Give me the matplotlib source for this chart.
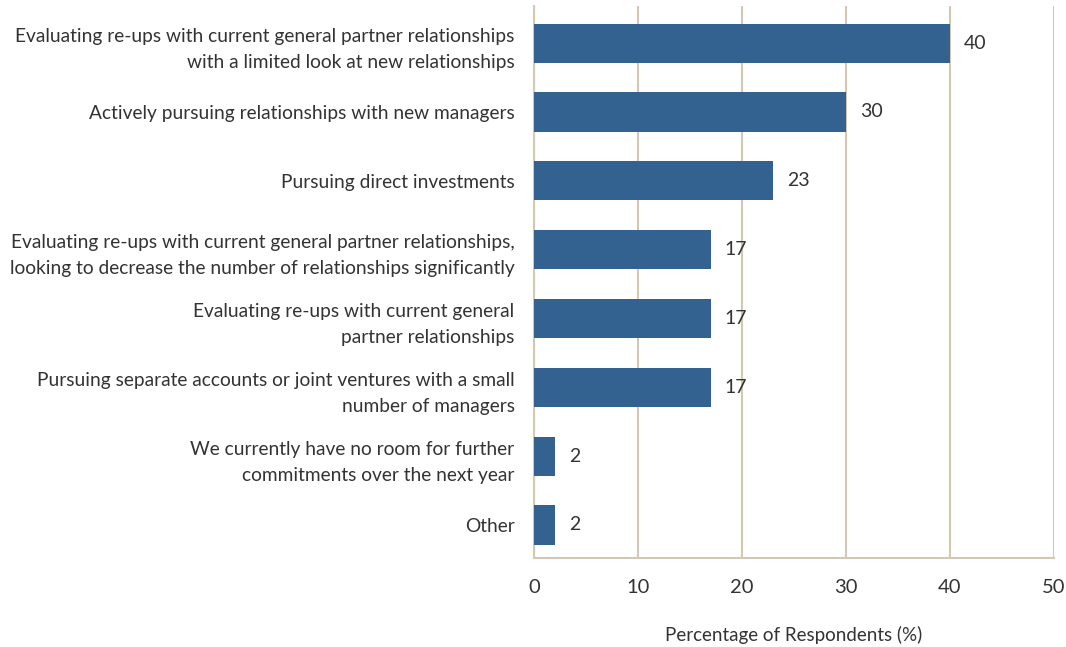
import matplotlib.pyplot as plt

# survey responses, top to bottom
categories = [
    "Evaluating re-ups with current general partner relationships\nwith a limited look at new relationships",
    "Actively pursuing relationships with new managers",
    "Pursuing direct investments",
    "Evaluating re-ups with current general partner relationships,\nlooking to decrease the number of relationships significantly",
    "Evaluating re-ups with current general\npartner relationships",
    "Pursuing separate accounts or joint ventures with a small\nnumber of managers",
    "We currently have no room for further\ncommitments over the next year",
    "Other",
]
values = [40, 30, 23, 17, 17, 17, 2, 2]
x_ticks = [0, 10, 20, 30, 40, 50]

bar_color = '#336290'
grid_color = '#d3c8b2'
text_color = '#333333'

plt.rcParams['font.family'] = ['Lato', 'DejaVu Sans']

fig = plt.figure(figsize=(10.66, 6.47), dpi=100)
ax = fig.add_axes([534 / 1066, 1 - 558 / 647, 520 / 1066, 552 / 647])

y = list(range(len(categories)))
ax.barh(y, values, height=0.57, color=bar_color, zorder=3)

for yi, v in zip(y, values):
    ax.annotate(str(v), (v, yi), xytext=(10, 0), textcoords='offset points',
                va='center', ha='left', fontsize=14, color=text_color)

ax.set_xlim(0, 50)
ax.set_ylim(7.48, -0.54)
ax.set_xticks(x_ticks)
ax.set_yticks(y)
ax.set_yticklabels(categories, fontsize=13.8, color=text_color, linespacing=1.65)
ax.tick_params(axis='x', length=0, pad=15, labelsize=14.5, labelcolor=text_color)
ax.tick_params(axis='y', length=0, pad=14)

ax.grid(axis='x', color=grid_color, linewidth=1.5, zorder=0)
for side in ['top', 'right']:
    ax.spines[side].set_visible(False)
for side in ['left', 'bottom']:
    ax.spines[side].set_color(grid_color)
    ax.spines[side].set_linewidth(1.5)

ax.set_xlabel('Percentage of Respondents (%)', fontsize=13.5, color=text_color, labelpad=22)

fig.savefig('out.png', dpi=100)
